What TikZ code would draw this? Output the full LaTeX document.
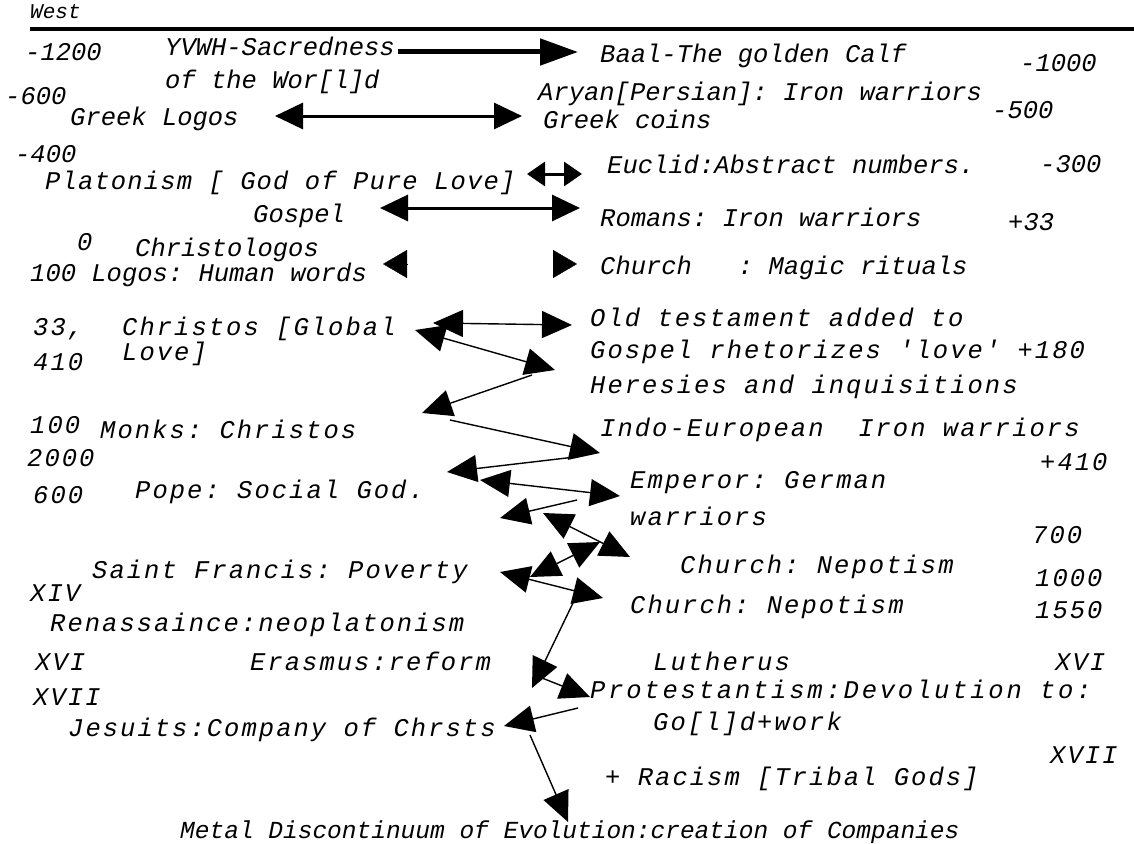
\documentclass[tikz,border=0pt]{standalone}
\usepackage{fontspec}
\setmonofont{Liberation Mono}
\usetikzlibrary{arrows.meta}

\begin{document}
\begin{tikzpicture}[x=1pt,y=-1pt,
    lbl/.style={anchor=base west, inner sep=0pt, font=\ttfamily\itshape\fontsize{25.5}{28}\selectfont},
    lblw/.style={lbl, font=\ttfamily\itshape\fontsize{25.5}{28}\selectfont\addfontfeatures{LetterSpace=8}},
    hdarr/.style={line width=5pt, -{Triangle[length=38pt,width=26pt]}},
    dblarr/.style={line width=3pt, {Triangle[length=28pt,width=26pt]}-{Triangle[length=28pt,width=26pt]}},
    headonly/.style={-{Triangle[length=24pt,width=28pt]}},
    zig/.style={line width=1.4pt, -{Triangle[length=30pt,width=27pt]}},
    zigd/.style={line width=1.4pt, {Triangle[length=30pt,width=27pt]}-{Triangle[length=30pt,width=27pt]}}]

        % Page
        \path[use as bounding box, fill=white] (0,0) rectangle (1134,843);

        % Header
        \node[lbl, font=\ttfamily\itshape\fontsize{21}{23}\selectfont] (west) at (30,19) {West};
        \coordinate (ruleL) at (30,29);
        \coordinate (ruleR) at (1134,29);
        \draw[line width=4.5pt] (ruleL) -- (ruleR);

        % Antiquity (left)
        \node[lbl] (n1200) at (25,60) {-1200};
        \node[lbl] (yvwh) at (165,56) {YVWH-Sacredness};
        \node[lbl] (world) at (165,88) {of the Wor[l]d};
        \node[lbl] (n600) at (5,104) {-600};
        \node[lbl] (greek) at (70,125) {Greek Logos};
        \node[lbl] (n400) at (15,162) {-400};
        \node[lbl, font=\ttfamily\itshape\fontsize{25.5}{28}\selectfont\addfontfeatures{LetterSpace=4.5}] (plato) at (45,189) {Platonism [ God of Pure Love]};
        \node[lbl] (gospel) at (253,222) {Gospel};
        \node[lbl] (zero) at (77,250) {0};
        \node[lbl] (christo) at (135,256) {Christologos};
        \node[lbl] (logos) at (30,281) {100 Logos: Human words};

        % Antiquity (right)
        \node[lbl] (baal) at (600,63) {Baal-The golden Calf};
        \node[lbl] (n1000) at (1020,71) {-1000};
        \node[lbl] (aryan) at (538,100) {Aryan[Persian]: Iron warriors};
        \node[lbl] (coins) at (543,128) {Greek coins};
        \node[lbl] (n500) at (992,118) {-500};
        \node[lbl] (euclid) at (607,173) {Euclid:Abstract numbers.};
        \node[lbl] (n300) at (1040,172) {-300};
        \node[lbl] (romans) at (600,226) {Romans: Iron warriors};
        \node[lbl] (p33) at (1008,230) {+33};
        \node[lbl] (church) at (600,274) {Church\ \ \ : Magic rituals};

        % Church era (left)
        \node[lblw] (n33) at (33,335) {33,};
        \node[lblw] (global) at (122,335) {Christos [Global};
        \node[lblw] (love) at (122,360) {Love]};
        \node[lblw] (n410) at (33,370) {410};
        \node[lblw] (n100) at (30,433) {100};
        \node[lblw] (monks) at (100,438) {Monks: Christos};
        \node[lblw] (n2000) at (27,466) {2000};
        \node[lblw] (n600b) at (33,503) {600};
        \node[lblw] (pope) at (135,498) {Pope: Social God.};
        \node[lblw] (francis) at (92,578) {Saint Francis: Poverty};
        \node[lblw] (xiv) at (30,601) {XIV};
        \node[lblw] (renais) at (50,631) {Renassaince:neoplatonism};
        \node[lblw] (xvi) at (35,670) {XVI};
        \node[lblw] (erasmus) at (250,670) {Erasmus:reform};
        \node[lblw] (xvii) at (33,705) {XVII};
        \node[lblw] (jesuits) at (68,736) {Jesuits:Company of Chrsts};

        % Church era (right)
        \node[lblw] (oldt) at (590,326) {Old testament added to};
        \node[lblw] (rhet) at (590,358) {Gospel rhetorizes 'love' +180};
        \node[lblw] (heres) at (590,393) {Heresies and inquisitions};
        \node[lblw] (indo) at (600,436) {Indo-European\ \ Iron warriors};
        \node[lblw] (p410) at (1040,470) {+410};
        \node[lblw] (emperor) at (630,488) {Emperor: German};
        \node[lblw] (warriors) at (630,525) {warriors};
        \node[lblw] (n700) at (1032,543) {700};
        \node[lblw] (nepoA) at (680,573) {Church: Nepotism};
        \node[lblw] (n1000b) at (1035,586) {1000};
        \node[lblw] (nepoB) at (630,613) {Church: Nepotism};
        \node[lblw] (n1550) at (1035,618) {1550};
        \node[lblw] (luther) at (653,670) {Lutherus};
        \node[lblw] (xvib) at (1055,670) {XVI};
        \node[lbl, font=\ttfamily\itshape\fontsize{25.5}{28}\selectfont\addfontfeatures{LetterSpace=11}] (protest) at (590,698) {Protestantism:Devolution to:};
        \node[lblw] (gold) at (653,730) {Go[l]d+work};
        \node[lblw] (xviib) at (1050,763) {XVII};
        \node[lblw] (racism) at (605,785) {+ Racism [Tribal Gods]};

        % Footer
        \node[lbl, font=\ttfamily\itshape\fontsize{24.5}{27}\selectfont] (metal) at (180,838) {Metal Discontinuum of Evolution:creation of Companies};

        % Straight arrows
        \coordinate (aA) at (398,52);  \coordinate (aB) at (578,52);
        \coordinate (bA) at (275,116); \coordinate (bB) at (522,116);
        \coordinate (cA) at (527,174); \coordinate (cB) at (582,174);
        \coordinate (dA) at (380,208); \coordinate (dB) at (580,208);
        \draw[hdarr] (aA) -- (aB);
        \draw[dblarr] (bA) -- (bB);
        \draw[line width=3pt, {Triangle[length=18pt,width=24pt]}-{Triangle[length=18pt,width=24pt]}] (cA) -- (cB);
        \draw[dblarr] (dA) -- (dB);
        % Loose heads
        \coordinate (eA) at (407,264); \coordinate (eB) at (383,264);
        \coordinate (fA) at (553,264); \coordinate (fB) at (577,264);
        \draw[headonly] (eA) -- (eB);
        \draw[headonly] (fA) -- (fB);

        % Zigzag
        \coordinate (z1a) at (433,323); \coordinate (z1b) at (572,325);
        \coordinate (z2a) at (415,330); \coordinate (z2b) at (555,370);
        \coordinate (z3a) at (532,375); \coordinate (z3b) at (422,413);
        \coordinate (z4a) at (450,420); \coordinate (z4b) at (600,453);
        \coordinate (z5a) at (575,457); \coordinate (z5b) at (447,472);
        \coordinate (z6a) at (480,480); \coordinate (z6b) at (620,496);
        \coordinate (z7a) at (577,500); \coordinate (z7b) at (500,518);
        \coordinate (z8a) at (543,513); \coordinate (z8b) at (630,557);
        \coordinate (z9a) at (530,577); \coordinate (z9b) at (600,542);
        \coordinate (z10a) at (500,572); \coordinate (z10b) at (603,598);
        \coordinate (z11a) at (573,603); \coordinate (z11b) at (532,688);
        \coordinate (z12a) at (542,678); \coordinate (z12b) at (590,697);
        \coordinate (z13a) at (578,708); \coordinate (z13b) at (504,726);
        \coordinate (z14a) at (530,735); \coordinate (z14b) at (568,822);
        \draw[zigd] (z1a) -- (z1b);
        \draw[zigd] (z2a) -- (z2b);
        \draw[zig] (z3a) -- (z3b);
        \draw[zig] (z4a) -- (z4b);
        \draw[zig] (z5a) -- (z5b);
        \draw[zigd] (z6a) -- (z6b);
        \draw[zig] (z7a) -- (z7b);
        \draw[zigd] (z8a) -- (z8b);
        \draw[zigd] (z9a) -- (z9b);
        \draw[zigd] (z10a) -- (z10b);
        \draw[zig] (z11a) -- (z11b);
        \draw[zig] (z12a) -- (z12b);
        \draw[zig] (z13a) -- (z13b);
        \draw[zig] (z14a) -- (z14b);
\end{tikzpicture}
\end{document}
